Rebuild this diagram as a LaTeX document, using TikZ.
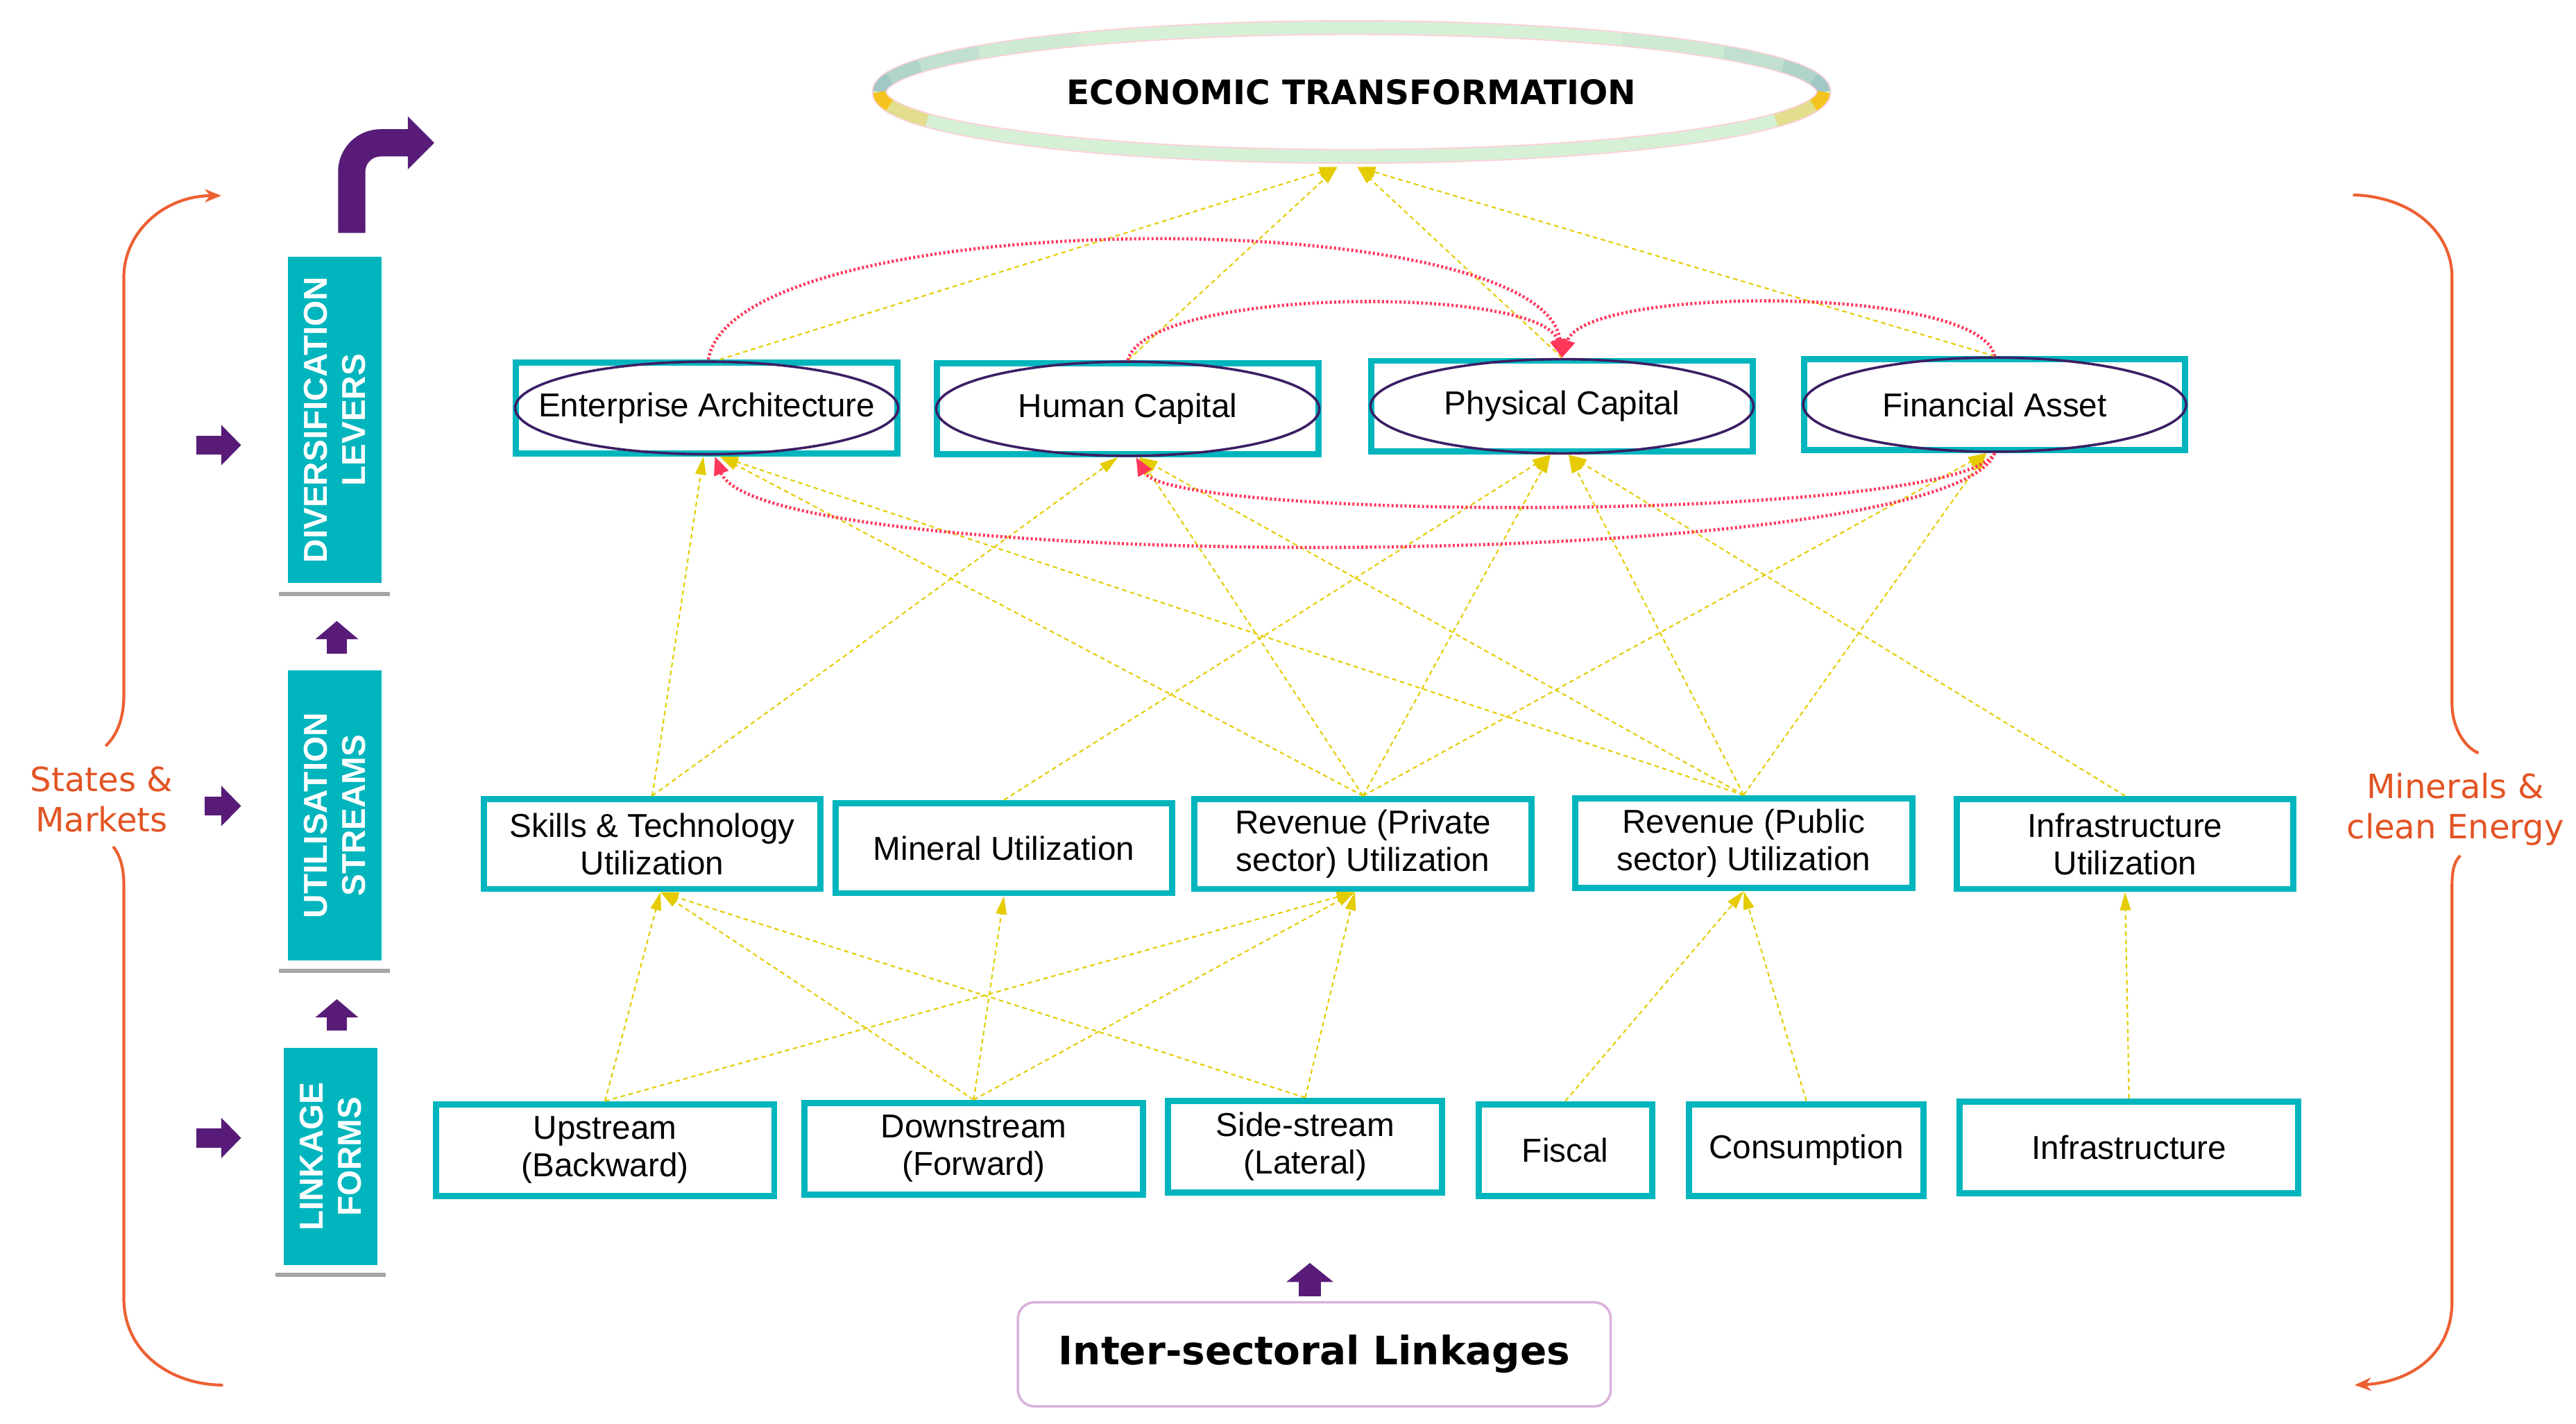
\documentclass[tikz,border=0pt]{standalone}
\usepackage{fontspec}
\setmainfont{Liberation Sans}
\newfontfamily\verdana{DejaVu Sans}
\usetikzlibrary{arrows.meta, shapes.geometric}

\definecolor{boxteal}{RGB}{0,181,189}
\definecolor{ovalpurple}{RGB}{60,30,100}
\definecolor{linkyellow}{RGB}{228,204,0}
\definecolor{linkred}{RGB}{255,55,90}
\definecolor{arrowpurple}{RGB}{88,28,120}
\definecolor{braceorange}{RGB}{236,96,50}
\definecolor{sideorange}{RGB}{226,84,36}
\definecolor{ringgreen}{RGB}{214,240,214}
\definecolor{ringteal}{RGB}{160,200,196}
\definecolor{ringpink}{RGB}{255,205,215}
\definecolor{ringyellow}{RGB}{244,196,30}

\begin{document}
\begin{tikzpicture}[x=0.2mm, y=-0.2mm,
    lever/.style={rectangle, draw=boxteal, line width=0.75mm, minimum width=46.2mm,
      minimum height=11mm, inner sep=0pt, font=\fontsize{11.4}{13}\selectfont},
    stream/.style={rectangle, draw=boxteal, line width=0.75mm, minimum width=40.8mm,
      minimum height=10.9mm, inner sep=0pt, align=center, font=\fontsize{11.4}{13}\selectfont},
    header/.style={rectangle, fill=boxteal, text=white, rotate=90, align=center, inner sep=0pt,
      minimum height=11.3mm, font=\bfseries\fontsize{11.4}{13}\selectfont},
    sidetext/.style={text=sideorange, align=center, font=\verdana\fontsize{11.5}{14}\selectfont},
    ylink/.style={linkyellow, line width=0.5pt, dash pattern=on 1.6pt off 1.2pt,
      -{Triangle[length=2.2mm, width=1.3mm]}},
    rlink/.style={linkred, line width=1.1pt, dash pattern=on 0.7pt off 0.8pt,
      -{Triangle[length=2.2mm, width=1.8mm]}},
    blockarrow/.style={arrowpurple, line width=2.4mm,
      -{Triangle[length=2.2mm, width=5.2mm, line width=0pt]}},
    bracket/.style={braceorange, line width=0.35mm},
    stand/.style={gray!70, line width=0.5mm}]

  % Page
  \fill[white] (0,0) rectangle (1560.1,861.8);
  \useasboundingbox (0,0) rectangle (1560.1,861.8);

  % The goal at the top
  \node[ellipse, draw=ringpink, double=ringgreen, double distance=1.5mm, line width=0.15mm,
    minimum width=114.4mm, minimum height=15.6mm,
    font=\verdana\bfseries\fontsize{11.6}{14}\selectfont] (econ) at (818.5,55.7) {ECONOMIC TRANSFORMATION};
  \draw[ringteal, line width=1.5mm] (econ.center) ++(0:57.2mm and 7.8mm)
    arc[start angle=0, end angle=12, x radius=57.2mm, y radius=7.8mm];
  \draw[ringteal!70!ringgreen, line width=1.5mm] (econ.center) ++(12:57.2mm and 7.8mm)
    arc[start angle=12, end angle=24, x radius=57.2mm, y radius=7.8mm];
  \draw[ringteal!40!ringgreen, line width=1.5mm] (econ.center) ++(24:57.2mm and 7.8mm)
    arc[start angle=24, end angle=38, x radius=57.2mm, y radius=7.8mm];
  \draw[ringteal!15!ringgreen, line width=1.5mm] (econ.center) ++(38:57.2mm and 7.8mm)
    arc[start angle=38, end angle=55, x radius=57.2mm, y radius=7.8mm];
  \draw[ringteal, line width=1.5mm] (econ.center) ++(180:57.2mm and 7.8mm)
    arc[start angle=180, end angle=168, x radius=57.2mm, y radius=7.8mm];
  \draw[ringteal!70!ringgreen, line width=1.5mm] (econ.center) ++(168:57.2mm and 7.8mm)
    arc[start angle=168, end angle=156, x radius=57.2mm, y radius=7.8mm];
  \draw[ringteal!40!ringgreen, line width=1.5mm] (econ.center) ++(156:57.2mm and 7.8mm)
    arc[start angle=156, end angle=142, x radius=57.2mm, y radius=7.8mm];
  \draw[ringteal!15!ringgreen, line width=1.5mm] (econ.center) ++(142:57.2mm and 7.8mm)
    arc[start angle=142, end angle=125, x radius=57.2mm, y radius=7.8mm];
  \draw[ringyellow, line width=1.5mm] (econ.center) ++(180:57.2mm and 7.8mm)
    arc[start angle=180, end angle=192, x radius=57.2mm, y radius=7.8mm];
  \draw[ringyellow!40!ringgreen, line width=1.5mm] (econ.center) ++(192:57.2mm and 7.8mm)
    arc[start angle=192, end angle=206, x radius=57.2mm, y radius=7.8mm];
  \draw[ringyellow, line width=1.5mm] (econ.center) ++(0:57.2mm and 7.8mm)
    arc[start angle=0, end angle=-12, x radius=57.2mm, y radius=7.8mm];
  \draw[ringyellow!40!ringgreen, line width=1.5mm] (econ.center) ++(-12:57.2mm and 7.8mm)
    arc[start angle=-12, end angle=-26, x radius=57.2mm, y radius=7.8mm];

  % Left column
  \node[header, minimum width=39.5mm] (divlev) at (202.75,254.3) {DIVERSIFICATION\\LEVERS};
  \node[header, minimum width=35.1mm] (utilstr) at (202.75,493.75) {UTILISATION\\STREAMS};
  \node[header, minimum width=26.3mm] (linkform) at (200.25,700.25) {LINKAGE\\FORMS};
  \draw[stand] (169,359.6) -- (236,359.6);
  \draw[stand] (169,588) -- (236,588);
  \draw[stand] (167,772) -- (233.5,772);

  % Purple arrows
  \draw[blockarrow, line width=3.3mm, rounded corners=3.5mm,
    -{Triangle[length=3.2mm, width=6.4mm, line width=0pt]}] (213,141) |- (263,86.5);
  \draw[blockarrow] (204,396) -- (204,376);
  \draw[blockarrow] (204,624) -- (204,605);
  \draw[blockarrow, line width=2.3mm, -{Triangle[length=2.4mm, width=4.9mm, line width=0pt]}] (119,269.5) -- (146,269.5);
  \draw[blockarrow, line width=2.3mm, -{Triangle[length=2.4mm, width=4.9mm, line width=0pt]}] (124,488) -- (146,488);
  \draw[blockarrow, line width=2.3mm, -{Triangle[length=2.4mm, width=4.9mm, line width=0pt]}] (119,689) -- (146,689);
  \draw[blockarrow, line width=2.7mm, -{Triangle[length=2.3mm, width=5.7mm, line width=0pt]}] (793.3,785) -- (793.3,764.7);

  % Levers
  \node[lever] (ea) at (428,247) {Enterprise Architecture};
  \node[lever] (hc) at (683,247.5) {Human Capital};
  \node[lever] (pc) at (946,246) {Physical Capital};
  \node[lever] (fa) at (1208,245) {Financial Asset};
  \draw[ovalpurple, line width=0.3mm] (ea.center) ellipse [x radius=23.2mm, y radius=5.6mm];
  \draw[ovalpurple, line width=0.3mm] (hc.center) ellipse [x radius=23.2mm, y radius=5.7mm];
  \draw[ovalpurple, line width=0.3mm] (pc.center) ellipse [x radius=23.2mm, y radius=5.7mm];
  \draw[ovalpurple, line width=0.3mm] (fa.center) ellipse [x radius=23.2mm, y radius=5.7mm];

  % Streams
  \node[stream] (skills) at (395,511) {Skills \& Technology\\Utilization};
  \node[stream] (mineral) at (608,513.5) {Mineral Utilization};
  \node[stream] (revpriv) at (825.5,511) {Revenue (Private\\sector) Utilization};
  \node[stream] (revpub) at (1056,510.5) {Revenue (Public\\sector) Utilization};
  \node[stream] (infrau) at (1287,511) {Infrastructure\\Utilization};

  % Linkage forms
  \node[stream, minimum width=41mm, minimum height=11.1mm] (up) at (366.4,696.3) {Upstream\\(Backward)};
  \node[stream, minimum width=41mm, minimum height=11.1mm] (down) at (589.7,695.5) {Downstream\\(Forward)};
  \node[stream, minimum width=33.2mm, minimum height=11.1mm] (side) at (790.5,694.2) {Side-stream\\(Lateral)};
  \node[stream, minimum width=21mm, minimum height=11.1mm] (fiscal) at (948,696.3) {Fiscal};
  \node[stream, minimum width=28.4mm, minimum height=11.1mm] (cons) at (1094,696.3) {Consumption};
  \node[stream, minimum width=41mm, minimum height=11.1mm] (infra) at (1289.4,694.7) {Infrastructure};

  % Base
  \node[draw=violet!30, line width=0.3mm, rounded corners=2mm, minimum width=71.8mm, minimum height=12.6mm,
    font=\verdana\bfseries\fontsize{13.5}{16}\selectfont] (isl) at (796,820) {Inter-sectoral Linkages};

  % Links from the forms to the streams
  \draw[ylink] (up.north) -- ([xshift=1mm]skills.south);
  \draw[ylink] (down.north) -- ([xshift=1mm]skills.south);
  \draw[ylink] (side.north) -- ([xshift=1mm]skills.south);
  \draw[ylink] (down.north) -- (mineral.south);
  \draw[ylink] (up.north) -- ([xshift=-1mm]revpriv.south);
  \draw[ylink] (down.north) -- ([xshift=-1mm]revpriv.south);
  \draw[ylink] (side.north) -- ([xshift=-1mm]revpriv.south);
  \draw[ylink] (fiscal.north) -- (revpub.south);
  \draw[ylink] (cons.north) -- (revpub.south);
  \draw[ylink] (infra.north) -- (infrau.south);

  % Links from the streams to the levers
  \draw[ylink] (skills.north) -- ([xshift=-0.4mm]ea.south);
  \draw[ylink] (skills.north) -- ([xshift=-1.2mm]hc.south);
  \draw[ylink] (mineral.north) -- ([xshift=-1.4mm]pc.south);
  \draw[ylink] (revpriv.north) -- ([xshift=1.6mm]ea.south);
  \draw[ylink] (revpriv.north) -- ([xshift=1.4mm]hc.south);
  \draw[ylink] (revpriv.north) -- ([xshift=-1.4mm]pc.south);
  \draw[ylink] (revpriv.north) -- ([xshift=-1mm]fa.south);
  \draw[ylink] (revpub.north) -- ([xshift=1.6mm]ea.south);
  \draw[ylink] (revpub.north) -- ([xshift=1.4mm]hc.south);
  \draw[ylink] (revpub.north) -- ([xshift=0.8mm]pc.south);
  \draw[ylink] (revpub.north) -- ([xshift=-1mm]fa.south);
  \draw[ylink] (infrau.north) -- ([xshift=0.8mm]pc.south);

  % Links from the levers to the goal
  \draw[ylink] ([xshift=1.6mm]ea.north) -- ([xshift=-1.7mm,yshift=-1.2mm]econ.south);
  \draw[ylink] (hc.north) -- ([xshift=-1.7mm,yshift=-1.2mm]econ.south);
  \draw[ylink] (pc.north) -- ([xshift=0.7mm,yshift=-1.2mm]econ.south);
  \draw[ylink] (fa.north) -- ([xshift=0.7mm,yshift=-1.2mm]econ.south);

  % Ties between the levers
  \draw[rlink] ([xshift=0.2mm]ea.north) .. controls +(16,-95) and +(-11,-95) .. (pc.north);
  \draw[rlink] (hc.north) .. controls +(12,-45) and +(-11,-44) .. (pc.north);
  \draw[rlink] (fa.north) .. controls +(-8,-43) and +(14,-44) .. (pc.north);
  \draw[rlink] (fa.south) .. controls +(-23,42) and +(22,39) .. ([xshift=1mm]hc.south);
  \draw[rlink] (fa.south) .. controls +(-28,74) and +(27,72) .. ([xshift=1mm]ea.south);

  % Brackets at the sides
  \draw[bracket] (64,451.7) .. controls (72,444) and (75,433) .. (75,421) -- (75,168)
    .. controls (75,140) and (100,118.5) .. (134,118.5)
    [-{Stealth[length=2mm, width=1.6mm]}];
  \draw[bracket] (68.5,512.6) .. controls (73,518) and (75,526) .. (75,536) -- (75,786)
    .. controls (75,820) and (105,838.6) .. (135,838.6);
  \draw[bracket] (1425,118) .. controls (1460,119) and (1485,140) .. (1485,168) -- (1485,426)
    .. controls (1485,440) and (1492,452) .. (1501,456);
  \draw[bracket, -{Stealth[length=2mm, width=1.6mm]}] (1490,518) .. controls (1486,522) and (1485,528) .. (1485,536)
    -- (1485,788) .. controls (1485,820) and (1460,837) .. (1426,838.6);

  % Side labels
  \node[sidetext] (states) at (61.5,484) {States \&\\Markets};
  \node[sidetext] (minerals) at (1487,490) {Minerals \&\\clean Energy};
\end{tikzpicture}
\end{document}
